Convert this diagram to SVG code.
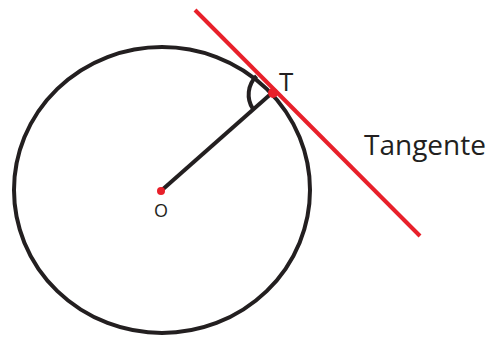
<svg xmlns="http://www.w3.org/2000/svg" width="492" height="337" viewBox="0 0 492 337">
<style>
.blk{fill:none;stroke:#231f20;stroke-width:4}
.red{fill:none;stroke:#e8202a;stroke-width:4}
.lbl{font-family:"Open Sans","Liberation Sans",sans-serif;fill:#231f20}
</style>
<rect width="492" height="337" fill="#fff"/>
<g id="circle"><ellipse class="blk" cx="162" cy="190" rx="148" ry="143"/></g>
<g id="connectors">
<line class="blk" x1="162" y1="190" x2="273" y2="92" stroke-width="3"/>
<path class="blk" d="M256.5 76 A26 26 0 0 0 253 109" stroke-width="3"/>
<line class="red" x1="195" y1="10" x2="420" y2="236"/>
</g>
<g id="T"><circle cx="273" cy="93" r="5" fill="#e8202a"/><text class="lbl" x="279" y="91" font-size="26">T</text></g>
<g id="O"><circle cx="161" cy="191" r="4" fill="#e8202a"/><text class="lbl" x="161" y="217" font-size="18" text-anchor="middle">O</text></g>
<g id="tangente"><text class="lbl" x="364" y="155" font-size="28">Tangente</text></g>
</svg>
